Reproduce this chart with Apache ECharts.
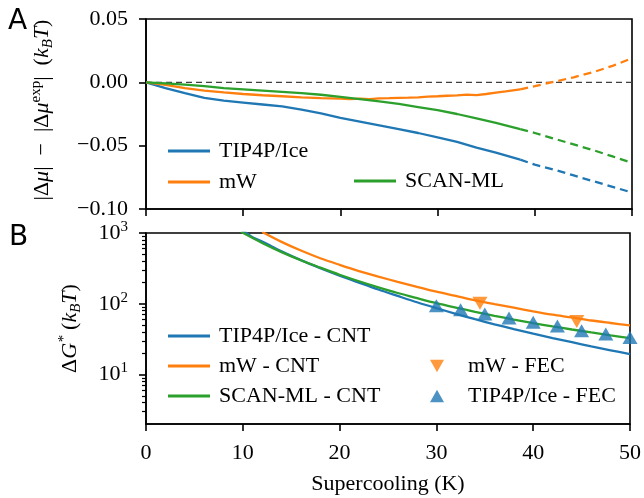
<!DOCTYPE html>
<html>
<head>
<meta charset="utf-8">
<script src="https://cdn.jsdelivr.net/npm/echarts@6/dist/echarts.min.js"></script>
<style>
html, body { margin: 0; padding: 0; background: #fff; }
#main { width: 644px; height: 498px; }
</style>
</head>
<body>
<div id="main"></div>
<script>
// panel A: |dmu| - |dmu_exp| (kBT) vs supercooling (K)
var tip4pMu = [[0,0],[2,-0.0045],[4,-0.0085],[6,-0.0122],[8,-0.0145],[10,-0.016],[12,-0.0175],[14,-0.019],[16,-0.0215],[18,-0.0245],[20,-0.028],[22,-0.031],[24,-0.034],[26,-0.037],[28,-0.040],[30,-0.0435],[32,-0.047],[34,-0.0515],[36,-0.0555],[38.5,-0.061]];
var tip4pMuExt = [[38.5,-0.061],[40,-0.065],[42,-0.069],[44,-0.0735],[46,-0.078],[48,-0.0825],[50,-0.087]];
var mwMu = [[0,0],[1,-0.001],[2,-0.002],[4,-0.0045],[6,-0.0065],[8,-0.008],[10,-0.0092],[12,-0.0102],[14,-0.011],[16,-0.0118],[18,-0.0125],[20,-0.0128],[21,-0.0132],[22,-0.0128],[23,-0.0133],[24,-0.0127],[25,-0.0125],[26,-0.0122],[27,-0.0121],[28,-0.0118],[29,-0.0113],[30,-0.011],[31,-0.0106],[32,-0.0103],[33,-0.0097],[34,-0.0101],[35,-0.0092],[36,-0.0082],[37,-0.0072],[38.5,-0.0055]];
var mwMuExt = [[38.5,-0.0055],[40,-0.003],[42,0.0005],[44,0.004],[46,0.008],[48,0.013],[50,0.019]];
var scanMu = [[0,0],[2,-0.0008],[4,-0.0018],[6,-0.003],[8,-0.0045],[10,-0.0055],[12,-0.0065],[14,-0.0075],[16,-0.0085],[18,-0.0098],[20,-0.0115],[22,-0.0132],[24,-0.015],[26,-0.017],[28,-0.0195],[30,-0.022],[32,-0.025],[34,-0.0285],[36,-0.032],[38.5,-0.037]];
var scanMuExt = [[38.5,-0.037],[40,-0.040],[42,-0.0445],[44,-0.049],[46,-0.0535],[48,-0.0585],[50,-0.0635]];

// panel B: dG* (kBT), CNT curves and FEC points
var tip4pCnt = [[10,1096],[11,871],[12,759],[13,646],[14,550],[16,413],[18,319],[20,250],[22,199],[24,159],[26,129],[28,105],[30,86.7],[32,72.1],[34,60.5],[36,51.3],[38,43.9],[40,37.8],[42,32.8],[44,28.6],[46,25.0],[48,22.0],[50,19.4]];
var mwCnt = [[12,1035],[14,750],[16,565],[18,440],[20,355],[22,290],[24,242],[26,204],[28,173],[30,148],[32,129],[34,112],[36,99],[38,88],[40,78],[42,70],[44,64],[46,58],[48,53.5],[50,49.5]];
var scanCnt = [[9.8,1040],[12,724],[14,537],[16,412],[18,324],[20,257],[22,208],[24,171],[26,142],[28,120],[30,102],[32,88.3],[34,76.9],[36,67.6],[38,59.7],[40,53.2],[42,47.9],[44,43.3],[46,39.3],[48,35.8],[50,32.8]];
var mwFec = [[34.5,102],[44.5,56]];
var tip4pFec = [[30,94],[32.5,82],[35,71.6],[37.5,63],[40,55],[42.5,48.5],[45,41.7],[47.5,37.4],[50,33.5]];

// log axis minor tick positions (panel B)
var minorTicksB = [3, 4, 5, 6, 7, 8, 9, 20, 30, 40, 50, 60, 70, 80, 90, 200, 300, 400, 500, 600, 700, 800, 900];

var BLUE = '#1f77b4', ORANGE = '#ff7f0e', GREEN = '#2ca02c';
var SERIF = 'Liberation Serif';
var FS = 22;
var LW = 2.3;

var rich = {
	n: { fontFamily: SERIF, fontSize: FS, color: '#000', lineHeight: 27, verticalAlign: 'middle' },
	i: { fontFamily: SERIF, fontSize: FS, color: '#000', fontStyle: 'italic', lineHeight: 27, verticalAlign: 'middle' },
	sup: { fontFamily: SERIF, fontSize: 15, color: '#000', lineHeight: 27, verticalAlign: 'top' },
	supi: { fontFamily: SERIF, fontSize: 15, color: '#000', fontStyle: 'italic', lineHeight: 27, verticalAlign: 'top' },
	sub: { fontFamily: SERIF, fontSize: 15, color: '#000', fontStyle: 'italic', lineHeight: 27, verticalAlign: 'bottom' }
};

var axisLine = { show: true, onZero: false, lineStyle: { color: '#000', width: 1.6 } };
var axisTick = { show: true, inside: false, length: 7, lineStyle: { color: '#000', width: 1.6 } };

function fmtA(v) {
	if (Math.abs(v) < 1e-9) v = 0;
	return v.toFixed(2).replace('-', '\u2212');
}

function fmtLog(v) {
	var e = Math.round(Math.log10(v));
	return '{n|10}{sup|' + e + '}';
}

var legendText = { fontFamily: SERIF, fontSize: FS, color: '#000', lineHeight: 21, padding: [0, 0, 0, 4] };

var myChart = echarts.init(document.getElementById('main'));
var option = {
	animation: false,
	backgroundColor: '#fff',
	graphic: [
		{ type: 'text', left: 8, top: 8, style: { text: 'A', fontFamily: 'DejaVu Sans', fontSize: 28, fill: '#000' } },
		{ type: 'text', left: 9, top: 224, style: { text: 'B', fontFamily: 'DejaVu Sans', fontSize: 28, fill: '#000' } }
	],
	grid: [
		{ left: 146, top: 19, width: 486, height: 190, show: true, borderColor: '#000', borderWidth: 1.6 },
		{ left: 146, top: 233, width: 486, height: 191, show: true, borderColor: '#000', borderWidth: 1.6 }
	],
	xAxis: [
		{
			type: 'value', gridIndex: 0, min: 0, max: 50, interval: 10, position: 'bottom',
			axisLine: axisLine, axisTick: axisTick,
			axisLabel: { show: false }, splitLine: { show: false }
		},
		{
			type: 'value', gridIndex: 1, min: 0, max: 50, interval: 10, position: 'bottom',
			axisLine: axisLine, axisTick: axisTick,
			axisLabel: { fontFamily: SERIF, fontSize: FS, color: '#000', margin: 18 },
			splitLine: { show: false },
			name: 'Supercooling (K)', nameLocation: 'middle', nameGap: 49,
			nameTextStyle: { fontFamily: SERIF, fontSize: FS, color: '#000' }
		}
	],
	yAxis: [
		{
			type: 'value', gridIndex: 0, min: -0.1, max: 0.05, interval: 0.05,
			axisLine: axisLine, axisTick: axisTick,
			axisLabel: { fontFamily: SERIF, fontSize: FS, color: '#000', margin: 18, formatter: fmtA },
			splitLine: { show: false },
			name: '{n||\u0394}{i|\u03bc}{n||  \u2212  |\u0394}{i|\u03bc}{sup|exp}{n||  (}{i|k}{sub|B}{i|T}{n|)}',
			nameLocation: 'middle', nameGap: 90, nameRotate: 90,
			nameTextStyle: { rich: rich, padding: [0, 0, 0, 8] }
		},
		{
			type: 'log', logBase: 10, gridIndex: 1, min: 2, max: 1000, position: 'left',
			axisLine: axisLine, axisTick: axisTick,
			axisLabel: { margin: 18, formatter: fmtLog, rich: rich, showMinLabel: false },
			splitLine: { show: false },
			name: '{n|\u0394}{i|G}{supi|*}{n| (}{i|k}{sub|B}{i|T}{n|)}',
			nameLocation: 'middle', nameGap: 62, nameRotate: 90,
			nameTextStyle: { rich: rich }
		},
		{
			type: 'log', logBase: 10, gridIndex: 1, min: 2, max: 1000, position: 'left', offset: 0,
			axisLine: { show: false },
			axisTick: { show: true, inside: false, length: 4, customValues: minorTicksB, lineStyle: { color: '#000', width: 1.2 } },
			axisLabel: { show: false },
			splitLine: { show: false }
		}
	],
	legend: [
		{
			left: 163, top: 135, orient: 'vertical', itemWidth: 42, itemHeight: 2.8, itemGap: 9,
			textStyle: legendText,
			data: [{ name: 'TIP4P/Ice', icon: 'rect' }, { name: 'mW', icon: 'rect' }]
		},
		{
			left: 349, top: 165, orient: 'vertical', itemWidth: 42, itemHeight: 2.8,
			textStyle: legendText,
			data: [{ name: 'SCAN-ML', icon: 'rect' }]
		},
		{
			left: 163, top: 320, orient: 'vertical', itemWidth: 42, itemHeight: 2.8, itemGap: 8,
			textStyle: legendText,
			data: [{ name: 'TIP4P/Ice - CNT', icon: 'rect' }, { name: 'mW - CNT', icon: 'rect' }, { name: 'SCAN-ML - CNT', icon: 'rect' }]
		},
		{
			left: 425, top: 350, orient: 'vertical', itemWidth: 14, itemHeight: 13, itemGap: 8,
			textStyle: { fontFamily: SERIF, fontSize: FS, color: '#000', lineHeight: 21, padding: [0, 0, 0, 19] },
			data: [{ name: 'mW - FEC', icon: 'path://M0,0L20,0L10,18Z' }, { name: 'TIP4P/Ice - FEC', icon: 'path://M10,0L20,18L0,18Z' }]
		}
	],
	series: [
		{
			name: 'zero', type: 'line', xAxisIndex: 0, yAxisIndex: 0, silent: true, symbol: 'none',
			data: [[0, 0], [50, 0]], lineStyle: { color: '#404040', width: 1.3, type: [6, 4] }
		},
		{ name: 'TIP4P/Ice', type: 'line', xAxisIndex: 0, yAxisIndex: 0, symbol: 'none', color: BLUE, data: tip4pMu, lineStyle: { width: LW } },
		{ name: 'TIP4P/Ice ext', type: 'line', xAxisIndex: 0, yAxisIndex: 0, symbol: 'none', color: BLUE, data: tip4pMuExt, lineStyle: { width: LW, type: [8, 5] } },
		{ name: 'mW', type: 'line', xAxisIndex: 0, yAxisIndex: 0, symbol: 'none', color: ORANGE, data: mwMu, lineStyle: { width: LW } },
		{ name: 'mW ext', type: 'line', xAxisIndex: 0, yAxisIndex: 0, symbol: 'none', color: ORANGE, data: mwMuExt, lineStyle: { width: LW, type: [8, 5] } },
		{ name: 'SCAN-ML', type: 'line', xAxisIndex: 0, yAxisIndex: 0, symbol: 'none', color: GREEN, data: scanMu, lineStyle: { width: LW } },
		{ name: 'SCAN-ML ext', type: 'line', xAxisIndex: 0, yAxisIndex: 0, symbol: 'none', color: GREEN, data: scanMuExt, lineStyle: { width: LW, type: [8, 5] } },

		{ name: 'TIP4P/Ice - CNT', type: 'line', xAxisIndex: 1, yAxisIndex: 1, symbol: 'none', smooth: 0.3, color: BLUE, data: tip4pCnt, lineStyle: { width: LW } },
		{ name: 'mW - CNT', type: 'line', xAxisIndex: 1, yAxisIndex: 1, symbol: 'none', smooth: 0.3, color: ORANGE, data: mwCnt, lineStyle: { width: LW } },
		{ name: 'SCAN-ML - CNT', type: 'line', xAxisIndex: 1, yAxisIndex: 1, symbol: 'none', smooth: 0.3, color: GREEN, data: scanCnt, lineStyle: { width: LW } },
		{ name: 'mW - FEC', type: 'scatter', xAxisIndex: 1, yAxisIndex: 1, symbol: 'triangle', symbolRotate: 180, symbolSize: [15, 13], color: ORANGE, data: mwFec, z: 3 },
		{ name: 'TIP4P/Ice - FEC', type: 'scatter', xAxisIndex: 1, yAxisIndex: 1, symbol: 'triangle', symbolSize: [15, 13], color: BLUE, data: tip4pFec, z: 4 }
	]
};
myChart.setOption(option);
</script>
</body>
</html>
